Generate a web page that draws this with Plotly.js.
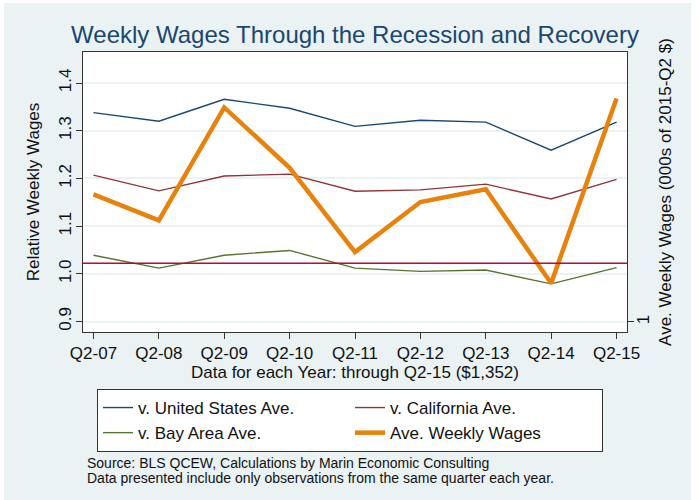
<!DOCTYPE html>
<html>
<head>
<meta charset="utf-8">
<script src="https://cdn.plot.ly/plotly-3.0.1.min.js"></script>
<style>
  html, body { margin: 0; padding: 0; background: #ffffff; }
  #chart { width: 699px; height: 500px; }
</style>
</head>
<body>
<div id="chart"></div>
<script>
// quarters shown on the x axis
var quarters = ['Q2-07', 'Q2-08', 'Q2-09', 'Q2-10', 'Q2-11', 'Q2-12', 'Q2-13', 'Q2-14', 'Q2-15'];

// relative weekly wages (left axis)
var vsUS = [1.338, 1.320, 1.366, 1.347, 1.309, 1.322, 1.318, 1.259, 1.318];
var vsCA = [1.207, 1.174, 1.205, 1.209, 1.173, 1.176, 1.188, 1.157, 1.198];
var vsBay = [1.039, 1.012, 1.039, 1.049, 1.012, 1.005, 1.008, 0.979, 1.013];

// average weekly wages, 000s of 2015-Q2 $ (right axis)
var aveWages = [1.201, 1.160, 1.338, 1.243, 1.110, 1.189, 1.209, 1.061, 1.352];

// horizontal reference line on the left axis
var refLevel = 1.022;

var xIdx = quarters.map(function(q, i) { return i; });

var baseFont = "'Liberation Sans', Arial, Helvetica, sans-serif";

// plot area in pixels, used to place things in the margins
var W = 699, H = 500;
var mL = 83, mR = 72, mT = 52, mB = 168;
var pw = W - mL - mR, ph = H - mT - mB;
function px2x(px) { return (px - mL) / pw; }
function px2y(py) { return (H - mB - py) / ph; }

var traces = [
    { x: xIdx, y: vsUS, name: 'v. United States Ave.', type: 'scatter', mode: 'lines',
      line: { color: '#1a476f', width: 1.4 } },
    { x: xIdx, y: vsCA, name: 'v. California Ave.', type: 'scatter', mode: 'lines',
      line: { color: '#90353b', width: 1.4 } },
    { x: xIdx, y: vsBay, name: 'v. Bay Area Ave.', type: 'scatter', mode: 'lines',
      line: { color: '#55752f', width: 1.4 } },
    { x: xIdx, y: aveWages, name: 'Ave. Weekly Wages', type: 'scatter', mode: 'lines',
      yaxis: 'y2', line: { color: '#e8820c', width: 4.5 } }
];

// thin white frame round the graph region (left, top, right)
var frame = { type: 'rect', xref: 'paper', yref: 'paper', layer: 'below',
              fillcolor: '#ffffff', line: { width: 0 } };

var layout = {
    width: W,
    height: H,
    paper_bgcolor: '#eaf2f3',
    plot_bgcolor: '#ffffff',
    font: { family: baseFont, size: 17, color: '#111111' },
    margin: { l: mL, r: mR, t: mT, b: mB },
    title: {
        text: 'Weekly Wages Through the Recession and Recovery',
        font: { family: baseFont, size: 24, color: '#1a476f' },
        x: 0.5, xref: 'paper', xanchor: 'center',
        y: 0.93, yref: 'container', yanchor: 'middle'
    },
    xaxis: {
        range: [-0.16, 8.16],
        tickmode: 'array',
        tickvals: xIdx,
        ticktext: quarters,
        ticks: 'outside', ticklen: 6, tickcolor: '#333333',
        showgrid: false, zeroline: false,
        showline: true, linecolor: '#333333', linewidth: 1, mirror: true,
        tickfont: { size: 17 },
        title: { text: 'Data for each Year: through Q2-15 ($1,352)', font: { size: 17 }, standoff: 1 }
    },
    yaxis: {
        range: [0.878, 1.465],
        tickvals: [0.9, 1.0, 1.1, 1.2, 1.3, 1.4],
        ticktext: ['0.9', '1.0', '1.1', '1.2', '1.3', '1.4'],
        tickangle: -90,
        ticks: 'outside', ticklen: 6, tickcolor: '#333333',
        ticklabelstandoff: -2,
        showgrid: true, gridcolor: '#eaf2f3', gridwidth: 1.5,
        zeroline: false,
        showline: true, linecolor: '#333333', linewidth: 1,
        tickfont: { size: 17 },
        title: { text: 'Relative Weekly Wages', font: { size: 17 }, standoff: 12 }
    },
    yaxis2: {
        overlaying: 'y', side: 'right',
        range: [0.9842, 1.4254],
        tickvals: [1], ticktext: ['1'],
        tickangle: -90,
        ticks: 'outside', ticklen: 6, tickcolor: '#333333',
        ticklabelstandoff: -5,
        showgrid: false, zeroline: false,
        showline: true, linecolor: '#333333', linewidth: 1,
        tickfont: { size: 17 },
        title: { text: 'Ave. Weekly Wages (000s of 2015-Q2 $)', font: { size: 17 }, standoff: 6 }
    },
    shapes: [
        { type: 'line', xref: 'paper', x0: 0, x1: 1, yref: 'y', y0: refLevel, y1: refLevel,
          line: { color: '#c10534', width: 1.5 }, layer: 'above' },
        Object.assign({}, frame, { x0: px2x(-5), x1: px2x(4), y0: px2y(H + 5), y1: px2y(-5) }),
        Object.assign({}, frame, { x0: px2x(-5), x1: px2x(W + 5), y0: px2y(3), y1: px2y(-5) }),
        Object.assign({}, frame, { x0: px2x(691), x1: px2x(W + 5), y0: px2y(H + 5), y1: px2y(-5) })
    ],
    showlegend: true,
    legend: {
        orientation: 'h',
        xref: 'container', x: 97 / W, xanchor: 'left',
        yref: 'container', y: 1 - 389 / H, yanchor: 'top',
        entrywidth: 207,
        bgcolor: '#ffffff',
        bordercolor: '#333333', borderwidth: 1,
        font: { size: 17 },
        tracegroupgap: 0
    },
    annotations: [
        { text: 'Source: BLS QCEW, Calculations by Marin Economic Consulting',
          xref: 'paper', yref: 'paper', x: px2x(85), y: px2y(463.5), xanchor: 'left', yanchor: 'middle',
          showarrow: false, font: { size: 14, color: '#111111' } },
        { text: 'Data presented include only observations from the same quarter each year.',
          xref: 'paper', yref: 'paper', x: px2x(85), y: px2y(477.5), xanchor: 'left', yanchor: 'middle',
          showarrow: false, font: { size: 14, color: '#111111' } }
    ]
};

Plotly.newPlot('chart', traces, layout, { displayModeBar: false });
</script>
</body>
</html>
